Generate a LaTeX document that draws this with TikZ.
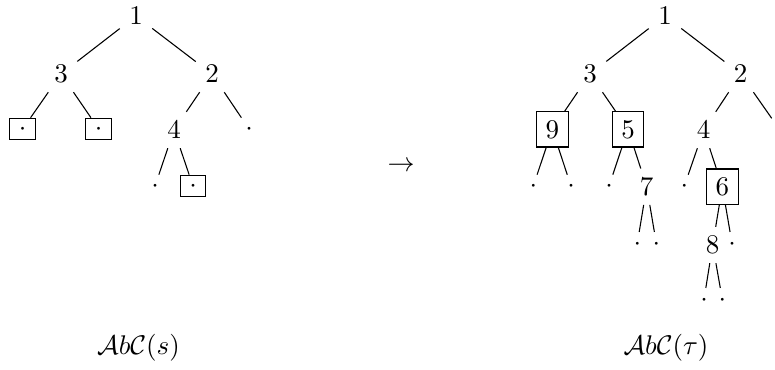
\documentclass[tikz,border=0pt]{standalone}
\newcommand{\dotc}{\raisebox{-2.5pt}{$\cdot$}}
\begin{document}
\begin{tikzpicture}[x=0.37037pt,y=-0.37037pt,
  tn/.style={inner sep=0.3333em},
  bx/.style={draw,inner sep=0.3333em},
  dt/.style={inner sep=0pt,minimum width=9.5pt,minimum height=8pt,text height=0pt,text depth=0pt},
  dbx/.style={dt,draw},
  ed/.style={line width=0.4pt}]
\useasboundingbox (0,0) rectangle (775,369);
% left tree
\node[tn] (a1) at (136,16) {$1$};
\node[tn] (a3) at (61,74) {$3$};
\node[tn] (a2) at (212,74) {$2$};
\node[dbx] (a3l) at (22.7,129) {\dotc};
\node[dbx] (a3r) at (98.7,129) {\dotc};
\node[tn] (a4) at (174,130) {$4$};
\node[dt] (a2r) at (249,129) {\dotc};
\node[dt] (a4l) at (155,186) {\dotc};
\node[dbx] (a4r) at (193,186) {\dotc};
\draw[ed] (a1) -- (a3);
\draw[ed] (a1) -- (a2);
\draw[ed] (a3) -- (a3l);
\draw[ed] (a3) -- (a3r);
\draw[ed] (a2) -- (a4);
\draw[ed] (a2) -- (a2r);
\draw[ed] (a4) -- (a4l);
\draw[ed] (a4) -- (a4r);
% arrow
\node[tn] (arr) at (401,167) {$\rightarrow$};
% right tree
\node[tn] (b1) at (665,16) {$1$};
\node[tn] (b3) at (590,74) {$3$};
\node[tn] (b2) at (740.7,74) {$2$};
\coordinate (b2r) at (771.7,118.3);
\node[bx] (b9) at (552.3,129.3) {$9$};
\node[bx] (b5) at (628,129.3) {$5$};
\node[tn] (b4) at (703.7,130) {$4$};
\node[dt] (b9l) at (533.3,186) {\dotc};
\node[dt] (b9r) at (571,186) {\dotc};
\node[dt] (b5l) at (609,186) {\dotc};
\node[tn] (b7) at (646.7,186.7) {$7$};
\node[dt] (b4l) at (684.3,186) {\dotc};
\node[bx] (b6) at (722.3,186.7) {$6$};
\node[dt] (b7l) at (637.3,243.3) {\dotc};
\node[dt] (b7r) at (656.3,243.3) {\dotc};
\node[tn] (b8) at (712.7,245) {$8$};
\node[dt] (b6r) at (732,243.3) {\dotc};
\node[dt] (b8l) at (704,299.3) {\dotc};
\node[dt] (b8r) at (722.3,299.3) {\dotc};
\draw[ed] (b1) -- (b3);
\draw[ed] (b1) -- (b2);
\draw[ed] (b3) -- (b9);
\draw[ed] (b3) -- (b5);
\draw[ed] (b2) -- (b4);
\draw[ed] (b2) -- (b2r);
\draw[ed] (b9) -- (b9l);
\draw[ed] (b9) -- (b9r);
\draw[ed] (b5) -- (b5l);
\draw[ed] (b5) -- (b7);
\draw[ed] (b4) -- (b4l);
\draw[ed] (b4) -- (b6);
\draw[ed] (b7) -- (b7l);
\draw[ed] (b7) -- (b7r);
\draw[ed] (b6) -- (b8);
\draw[ed] (b6) -- (b6r);
\draw[ed] (b8) -- (b8l);
\draw[ed] (b8) -- (b8r);
% labels
\node[tn] (ls) at (138.5,347.5) {$\mathcal{A}b\mathcal{C}(s)$};
\node[tn] (lt) at (666,347.5) {$\mathcal{A}b\mathcal{C}(\tau)$};
\end{tikzpicture}
\end{document}
